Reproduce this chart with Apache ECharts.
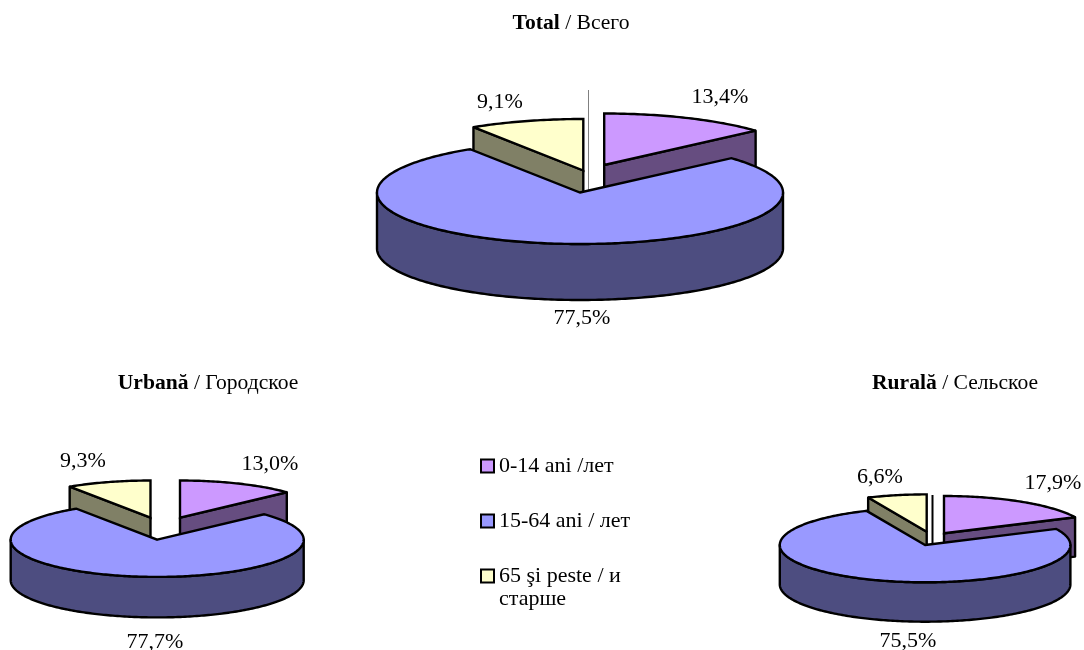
<!DOCTYPE html>
<html>
<head>
<meta charset="utf-8">
<style>html,body{margin:0;padding:0;background:#fff}#c{width:1084px;height:650px}</style>
<script src="https://cdn.jsdelivr.net/npm/echarts@6/dist/echarts.min.js"></script>
</head>
<body>
<div id="c"></div>
<script>
// ---- data ----
const pieNames = ['Total', 'Urbană', 'Rurală'];
const pieNamesRu = ['Всего', 'Городское', 'Сельское'];
const groupNames = ['0-14 ani /лет', '15-64 ani / лет', '65 şi peste / и'];
const groupNameContinuation = 'старше';
const children = [13.4, 13.0, 17.9];
const working = [77.5, 77.7, 75.5];
const elderly = [9.1, 9.3, 6.6];

// ---- layout (pixels, not data) ----
const FONT = '"Liberation Serif","Times New Roman",serif';
const FS = 22;
const layouts = [
  { cx: 579.7, cy: 192.5, rx: 203, ry: 51.5, depth: 56,
    off: [[24.5, -27.5], [0.3, 0], [3.6, -22]],
    lab: [[720, 97], [582, 318], [500, 102]] },
  { cx: 158.5, cy: 539.7, rx: 146.5, ry: 37.2, depth: 40.5,
    off: [[21.5, -22], [-1.3, 0], [-8, -22]],
    lab: [[270, 464], [155, 642], [83, 461]] },
  { cx: 925.3, cy: 545, rx: 145.3, ry: 37.3, depth: 39.4,
    off: [[18.7, -11.7], [-0.2, 0], [1.4, -13.3]],
    lab: [[1053, 483], [908, 641], [880, 477]] }
];
const titlePos = [[571, 21], [208, 381], [955, 381]];
const tops = ['#cc99ff', '#9999ff', '#ffffcc'];
const walls = ['#664d80', '#4d4d80', '#808066'];
const seriesValues = [children, working, elderly];
const LW = 2.4;

function startFrac(g, i) {
  let s = 0;
  for (let k = 0; k < g; k++) s += seriesValues[k][i];
  return s;
}
function slice(g) {
  return function (params, api) {
    const i = params.dataIndex, L = layouts[i];
    const total = seriesValues.reduce((a, s) => a + s[i], 0);
    const v = api.value(0);
    const a0 = startFrac(g, i) / total * 2 * Math.PI;
    const a1 = a0 + v / total * 2 * Math.PI;
    const ox = L.cx + L.off[g][0], oy = L.cy + L.off[g][1];
    const P = (t, d) => [ox + L.rx * Math.sin(t), oy - L.ry * Math.cos(t) + (d || 0)];
    const kids = [];
    const base = { fill: walls[g], stroke: '#000', lineWidth: LW, lineJoin: 'round' };
    const poly = pts => ({ type: 'polygon', shape: { points: pts }, style: Object.assign({}, base), silent: true });
    // radial walls that face the viewer
    if (Math.sin(a0) < -1e-6) kids.push(poly([[ox, oy], P(a0), P(a0, L.depth), [ox, oy + L.depth]]));
    if (Math.sin(a1) > 1e-6) kids.push(poly([[ox, oy], P(a1), P(a1, L.depth), [ox, oy + L.depth]]));
    // outer wall (front half of the rim)
    const w0 = Math.max(a0, Math.PI / 2), w1 = Math.min(a1, 3 * Math.PI / 2);
    if (w1 > w0) {
      const up = [], dn = [];
      const n = Math.ceil((w1 - w0) * 60);
      for (let k = 0; k <= n; k++) {
        const t = w0 + (w1 - w0) * k / n;
        up.push(P(t)); dn.unshift(P(t, L.depth));
      }
      kids.push(poly(up.concat(dn)));
    }
    // top face
    const top = [[ox, oy]];
    const n = Math.ceil((a1 - a0) * 60);
    for (let k = 0; k <= n; k++) top.push(P(a0 + (a1 - a0) * k / n));
    kids.push({ type: 'polygon', shape: { points: top }, silent: true,
      style: { fill: tops[g], stroke: '#000', lineWidth: LW, lineJoin: 'miter', miterLimit: 2 } });
    // value label
    kids.push({ type: 'text', silent: true, z2: 50, x: L.lab[g][0], y: L.lab[g][1],
      style: { text: v.toFixed(1).replace('.', ',') + '%', fill: '#000', font: FS + 'px ' + FONT, textAlign: 'center', textVerticalAlign: 'middle' } });
    return { type: 'group', children: kids };
  };
}

const chart = echarts.init(document.getElementById('c'), null, { renderer: 'canvas' });
const drawOrder = [0, 2, 1]; // back slices first, large slice in front
chart.setOption({
  animation: false,
  backgroundColor: '#fff',
  title: pieNames.map((n, i) => ({
    text: '{b|' + n + '}{r| / ' + pieNamesRu[i] + '}',
    left: titlePos[i][0], top: titlePos[i][1] - 9, textAlign: 'center', padding: 0,
    textStyle: { fontWeight: 'normal', rich: {
      b: { fontFamily: FONT, fontSize: 21.6, fontWeight: 'bold', color: '#000' },
      r: { fontFamily: FONT, fontSize: 21.6, fontWeight: 'normal', color: '#000' } } }
  })),
  legend: {
    orient: 'vertical', left: 480, top: 455, itemGap: 33, itemWidth: 13, itemHeight: 13, icon: 'rect',
    padding: 0, selectedMode: false, data: groupNames,
    itemStyle: { borderColor: '#000', borderWidth: 2 },
    textStyle: { fontFamily: FONT, fontSize: 22, color: '#000' }
  },
  series: drawOrder.map((g, o) => ({
    type: 'custom', name: groupNames[g], coordinateSystem: 'none', z: 2 + o,
    itemStyle: { color: tops[g] },
    renderItem: slice(g),
    data: seriesValues[g].map((v, i) => ({ name: pieNames[i], value: [v] }))
  })),
  graphic: [
    { type: 'text', left: 499, top: 588, style: { text: groupNameContinuation, fill: '#000', font: '22px ' + FONT } },
    { type: 'line', silent: true, z: 1, shape: { x1: 588.5, y1: 90, x2: 588.5, y2: 190 }, style: { stroke: '#808080', lineWidth: 1 } },
    { type: 'line', silent: true, z: 1, shape: { x1: 932.5, y1: 495, x2: 932.5, y2: 543 }, style: { stroke: '#000', lineWidth: 2 } }
  ]
});
</script>
</body>
</html>
